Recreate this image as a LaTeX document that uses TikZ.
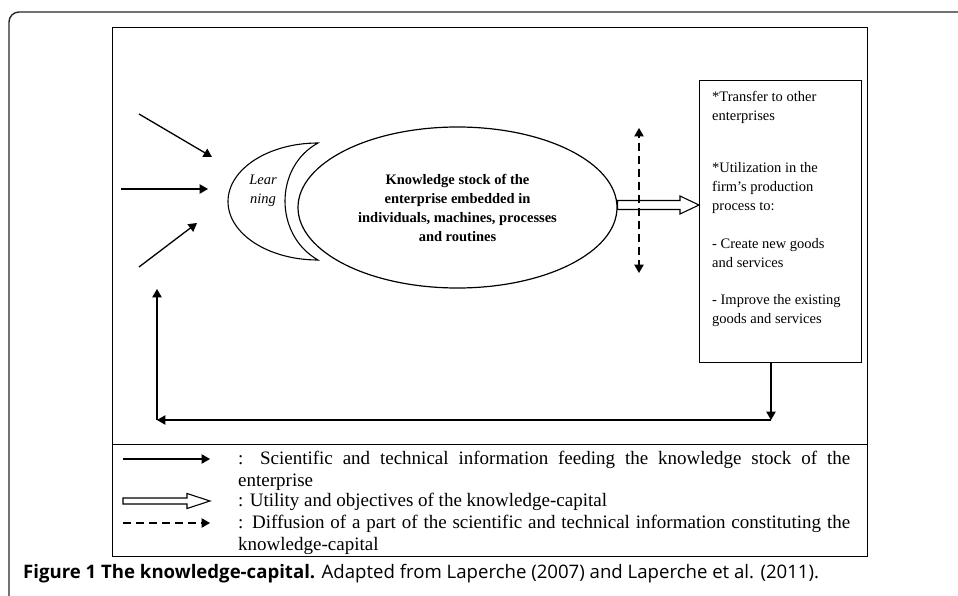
\documentclass[tikz,border=0pt]{standalone}
\usepackage{fontspec}
\setmainfont{Liberation Serif}
\newfontfamily\capfont{Open Sans}
\usetikzlibrary{shapes.geometric, arrows, calc}
\newcommand{\nohyph}{\hyphenpenalty=10000 \exhyphenpenalty=10000 }
\tikzstyle{arrow} = [line width=1.3pt,->,>=triangle 60]
\tikzstyle{hollow} = [draw, line width=1.1pt, fill=white]
\tikzstyle{block} = [rectangle, draw, line width=1.3pt, minimum width=162pt, minimum height=282pt, inner sep=0pt]
\tikzstyle{stockel} = [ellipse, draw, line width=1.2pt, minimum width=319pt, minimum height=161pt, inner sep=0pt, align=center, font=\fontsize{14.5}{19}\selectfont\bfseries]
\tikzstyle{boxtext} = [anchor=north west, inner sep=0pt, align=left, font=\fontsize{14.5}{19}\selectfont]
\tikzstyle{legtext} = [anchor=north west, inner sep=0pt, text width=612pt, align=justify, font=\fontsize{19}{21.5}\selectfont\nohyph]

\begin{document}
\begin{tikzpicture}[x=1pt, y=-1pt]
\clip (0,0) rectangle (958,596);
% outer frame and inner frame
\draw[line width=1.4pt, draw=black!85, rounded corners=10pt] (9,620) -- (9,12) -- (980,12);
\draw[line width=1pt] (112.5,28) rectangle (867,556);
\draw[line width=1pt] (112.5,444) -- (867,444);

% learning crescent
\draw[line width=1.1pt] (318,143) arc[start angle=-90, end angle=-270, x radius=90, y radius=58.5] .. controls (274,235) and (274,167) .. (318,143) -- cycle;
\node (learn) at (263,191) [font=\fontsize{14.5}{19}\selectfont\itshape, align=center] {Lear\\ning};

\node (stock) at (457.5,207.5) [stockel] {Knowledge stock of the\\enterprise embedded in\\individuals, machines, processes\\and routines};

\node (box) at (699,80) [block, anchor=north west] {};
\node (use) at (712,91) [boxtext] {*Transfer to other\\enterprises\\[33pt]*Utilization in the\\firm's production\\process to:\\[19pt]- Create new goods\\and services\\[18pt]- Improve the existing\\goods and services};

% incoming information
\coordinate (s1) at (139,114);
\coordinate (e1) at (212,157);
\coordinate (s2) at (121,189);
\coordinate (e2) at (208,189);
\coordinate (s3) at (139,267);
\coordinate (e3) at (197,223);
\draw [arrow] (s1) -- (e1);
\draw [arrow] (s2) -- (e2);
\draw [arrow] (s3) -- (e3);

% utility arrow
\coordinate (ua) at ($(stock.east)+(0,-2.5)$);
\coordinate (ub) at (box.west |- ua);
\draw [hollow] ($(ua)+(0,-4.5)$) -- ($(ub)+(-19,-4.5)$) -- ++(0,-4.5) -- (ub) -- ($(ub)+(-19,9)$) -- ++(0,-4.5) -- ($(ua)+(0,4.5)$) -- cycle;

% diffusion
\coordinate (d1) at (639,128);
\coordinate (d2) at (639,273);
\draw [arrow, <->, dash pattern=on 8pt off 5pt] (d1) -- (d2);

% feedback loop
\coordinate (fb) at (771,420);
\coordinate (fl) at (157,420);
\coordinate (ft) at (157,289);
\draw [arrow] (box.south -| fb) -- (fb);
\draw [arrow] (fb) -- (fl);
\draw [arrow] (fl) -- (ft);

% legend
\coordinate (l1a) at (123,459);
\coordinate (l1b) at (210,459);
\coordinate (l2a) at (123,501);
\coordinate (l2b) at (210,501);
\coordinate (l3a) at (123,523);
\coordinate (l3b) at (210,523);
\draw [arrow] (l1a) -- (l1b);
\draw [hollow] ($(l2a)+(0,-3)$) -- ($(l2b)+(-23,-3)$) -- ++(0,-4.5) -- (l2b) -- ($(l2b)+(-23,7.5)$) -- ++(0,-4.5) -- ($(l2a)+(0,3)$) -- cycle;
\draw [arrow, dash pattern=on 8pt off 5pt] (l3a) -- (l3b);
\node (leg1) at (238,451) [legtext] {: Scientific and technical information feeding the knowledge stock of the enterprise};
\node (leg2) at (238,493) [legtext] {: Utility and objectives of the knowledge-capital};
\node (leg3) at (238,515) [legtext] {: Diffusion of a part of the scientific and technical information constituting the knowledge-capital};

\node (cap) at (23,578.5) [anchor=base west, inner sep=0pt, font=\capfont\fontsize{18.6}{22}\selectfont] {\textbf{Figure 1 The knowledge-capital.} Adapted from Laperche (2007) and Laperche et al. (2011).};
\end{tikzpicture}
\end{document}
